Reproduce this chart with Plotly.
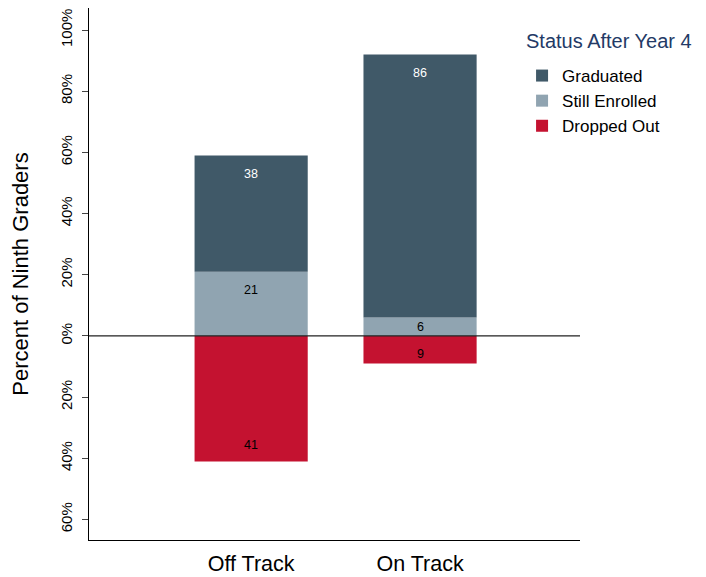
import plotly.graph_objects as go

# data
categories = ["Off Track", "On Track"]
graduated = [38, 86]
still_enrolled = [21, 6]
dropped_out = [-41, -9]
tick_vals = [-60, -40, -20, 0, 20, 40, 60, 80, 100]
tick_text = ["60%", "40%", "20%", "0%", "20%", "40%", "60%", "80%", "100%"]

colors = {"Graduated": "#405968", "Still Enrolled": "#90a4b1", "Dropped Out": "#c41230"}
label_colors = {"Graduated": "white", "Still Enrolled": "black", "Dropped Out": "black"}

fig = go.Figure()
series = [("Graduated", graduated), ("Still Enrolled", still_enrolled), ("Dropped Out", dropped_out)]
# plot order: still enrolled sits on zero, graduated stacks on top
for name, vals in [series[1], series[0], series[2]]:
    fig.add_trace(go.Bar(
        x=categories, y=vals, name=name, marker_color=colors[name],
        marker_line_width=0, width=0.67,
    ))

# value labels near the outer end of each segment
for i, cat in enumerate(categories):
    base = 0
    for name, vals in [series[1], series[0]]:
        v = vals[i]
        top = base + v
        y = top - min(6, v / 2)
        fig.add_annotation(x=cat, y=y, text=str(v), showarrow=False,
                           font=dict(size=12.5, color=label_colors[name]))
        base = top
    v = dropped_out[i]
    y = v + min(5.5, -v / 3)
    fig.add_annotation(x=cat, y=y, text=str(-v), showarrow=False,
                       font=dict(size=12.5, color=label_colors["Dropped Out"]))

fig.add_shape(type="line", xref="paper", x0=0, x1=1, y0=0, y1=0,
              line=dict(color="#222222", width=1.3), layer="above")

# legend title drawn separately so its gap to the items can be set
fig.add_annotation(xref="paper", yref="paper", x=0.886, y=0.938, xanchor="left",
                   yanchor="middle", text="Status After Year 4", showarrow=False,
                   font=dict(size=20, color="#233a66"))

# page body has an 8px margin, so the figure is 8px smaller and shifted
fig.update_layout(
    barmode="relative",
    width=698, height=569,
    margin=dict(l=81, r=126, t=0, b=37),
    plot_bgcolor="white", paper_bgcolor="white",
    font=dict(family="Liberation Sans, Arial", color="black"),
    legend=dict(
        traceorder="normal", x=0.882, xanchor="left", y=0.906, yanchor="top",
        font=dict(size=17), itemsizing="constant",
    ),
    xaxis=dict(
        range=[-0.96, 1.947], showline=True, linecolor="black", linewidth=1,
        ticks="", tickfont=dict(size=21.5), ticklabelstandoff=4,
        showgrid=False, automargin=False,
    ),
    yaxis=dict(
        range=[-66.7, 107.2], tickvals=tick_vals, ticktext=tick_text,
        tickangle=-90, tickfont=dict(size=15), ticks="outside", ticklen=6,
        ticklabelstandoff=4, automargin=False,
        showline=True, linecolor="black", linewidth=1, showgrid=False, zeroline=False,
        title=dict(text="Percent of Ninth Graders", font=dict(size=22), standoff=26),
    ),
)

# legend order: Graduated, Still Enrolled, Dropped Out
fig.data[0].legendrank = 2
fig.data[1].legendrank = 1
fig.data[2].legendrank = 3

fig.write_html("out.html")
